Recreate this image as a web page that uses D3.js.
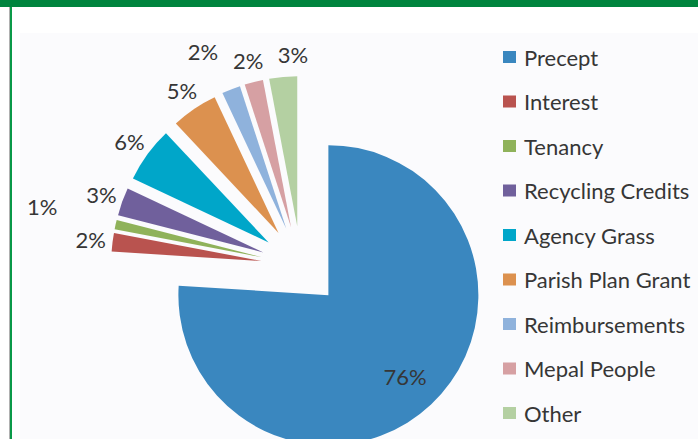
<!DOCTYPE html>
<html>
<head>
<meta charset="utf-8">
<script src="https://cdn.jsdelivr.net/npm/d3@7"></script>
<style>
  body { margin: 0; background: #fff; }
  svg { display: block; font-family: Lato, "Open Sans", sans-serif; }
</style>
</head>
<body>
<svg id="chart" width="698" height="439"></svg>
<script>
// categories and values (percent)
var categories = ["Precept", "Interest", "Tenancy", "Recycling Credits", "Agency Grass",
                  "Parish Plan Grant", "Reimbursements", "Mepal People", "Other"]
var values = [76, 2, 1, 3, 6, 5, 2, 2, 3]
var labels = ["76%", "2%", "1%", "3%", "6%", "5%", "2%", "2%", "3%"]
var colors = ["#3a87bf", "#b9534f", "#8fb25a", "#70609c", "#00a6c9",
              "#dc914f", "#8fb2dc", "#d6a0a3", "#b4d0a2"]

function desenhar_pizza() {
    var svg = d3.select('#chart')

    // moldura
    svg.append('rect').attr('x', 0).attr('y', 0).attr('width', 698).attr('height', 7).attr('fill', '#00843e')
    svg.append('rect').attr('x', 9).attr('y', 7).attr('width', 1).attr('height', 432).attr('fill', '#b0b0b0')
    svg.append('rect').attr('x', 10).attr('y', 7).attr('width', 2).attr('height', 432).attr('fill', '#0a9a48')
    svg.append('rect').attr('x', 20).attr('y', 33).attr('width', 678).attr('height', 406).attr('fill', '#fbfbfd')

    var data = categories.map(function (c, i) {
        return { name: c, value: values[i], label: labels[i], color: colors[i] }
    })

    var radius = 150,
        explode = 40
    // labels that Excel moved to avoid overlaps (dx, dy)
    var labelNudge = { "Tenancy": [-52, -13], "Reimbursements": [-20, -17], "Other": [12, 0] }

    var pie = d3.pie().sort(null).value(function (d) { return d.value })
    var arc = d3.arc().innerRadius(0).outerRadius(radius)

    var g = svg.append('g').attr('transform', 'translate(301,266)')

    var slices = g.selectAll('.slice')
        .data(pie(data))
        .enter()
        .append('g')
        .attr('class', 'slice')
        .attr('transform', function (d) {
            var a = (d.startAngle + d.endAngle) / 2
            return 'translate(' + (Math.sin(a) * explode) + ',' + (-Math.cos(a) * explode) + ')'
        })

    slices.append('path')
        .attr('d', arc)
        .attr('fill', function (d) { return d.data.color })

    // rótulos
    function labelPos(d) {
        var a = (d.startAngle + d.endAngle) / 2
        var r = d.data.value > 50 ? explode + 112 : explode + radius + 22
        var n = labelNudge[d.data.name] || [0, 0]
        return [Math.sin(a) * r + n[0], -Math.cos(a) * r + n[1]]
    }

    g.selectAll('.lbl')
        .data(pie(data))
        .enter()
        .append('text')
        .attr('class', 'lbl')
        .attr('text-anchor', 'middle')
        .attr('dominant-baseline', 'central')
        .attr('font-size', 22)
        .attr('fill', '#363636')
        .attr('x', function (d) { return labelPos(d)[0] })
        .attr('y', function (d) { return labelPos(d)[1] })
        .text(function (d) { return d.data.label })

    // legenda
    var y = d3.scalePoint().domain(categories).range([57, 413])
    var leg = svg.append('g').selectAll('g')
        .data(data)
        .enter()
        .append('g')
        .attr('transform', function (d) { return 'translate(503,' + y(d.name) + ')' })

    leg.append('rect')
        .attr('x', 0).attr('y', -6)
        .attr('width', 13).attr('height', 12)
        .attr('fill', function (d) { return d.color })

    leg.append('text')
        .attr('x', 21)
        .attr('dominant-baseline', 'central')
        .attr('font-size', 22)
        .attr('fill', '#363636')
        .text(function (d) { return d.name })
}

desenhar_pizza()
</script>
</body>
</html>
